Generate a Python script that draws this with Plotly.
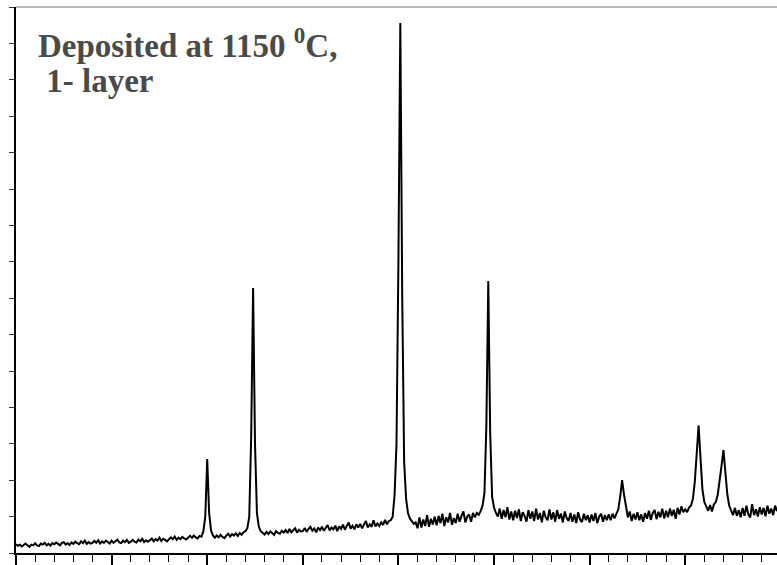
import numpy as np
import plotly.graph_objects as go

# 2-theta scan grid (deg), step 0.2
two_theta = np.round(np.arange(10.0, 89.61, 0.2), 1)

# Intensity (arbitrary units), one row per 2 degrees
intensity = [
    0.24, 0.20, 0.23, 0.18, 0.22, 0.26, 0.21, 0.17, 0.23, 0.21,   # 10-11.8
    0.27, 0.21, 0.19, 0.26, 0.23, 0.28, 0.21, 0.25, 0.20, 0.27,   # 12
    0.24, 0.29, 0.25, 0.21, 0.28, 0.30, 0.23, 0.27, 0.22, 0.29,   # 14
    0.25, 0.31, 0.27, 0.24, 0.32, 0.27, 0.34, 0.25, 0.30, 0.26,   # 16
    0.28, 0.33, 0.28, 0.35, 0.26, 0.32, 0.28, 0.34, 0.30, 0.26,   # 18
    0.34, 0.28, 0.32, 0.37, 0.29, 0.27, 0.34, 0.30, 0.36, 0.28,   # 20
    0.31, 0.36, 0.31, 0.29, 0.37, 0.32, 0.39, 0.30, 0.35, 0.31,   # 22
    0.35, 0.40, 0.32, 0.38, 0.34, 0.42, 0.33, 0.39, 0.36, 0.32,   # 24
    0.38, 0.43, 0.38, 0.45, 0.36, 0.42, 0.38, 0.44, 0.40, 0.37,   # 26
    0.42, 0.47, 0.42, 0.48, 0.43, 0.40, 0.47, 0.45, 0.60, 1.00,   # 28
    2.58, 1.10, 0.62, 0.48, 0.42, 0.48, 0.43, 0.50, 0.44, 0.41,   # 30
    0.48, 0.53, 0.45, 0.52, 0.48, 0.54, 0.47, 0.55, 0.50, 0.57,   # 32
    0.60, 0.68, 1.00, 3.20, 7.28, 3.00, 1.10, 0.72, 0.60, 0.55,   # 34
    0.51, 0.58, 0.52, 0.59, 0.54, 0.50, 0.60, 0.55, 0.53, 0.61,   # 36
    0.56, 0.63, 0.55, 0.66, 0.57, 0.62, 0.68, 0.56, 0.64, 0.59,   # 38
    0.60, 0.69, 0.58, 0.66, 0.72, 0.61, 0.67, 0.57, 0.70, 0.63,   # 40
    0.72, 0.61, 0.69, 0.77, 0.62, 0.70, 0.65, 0.75, 0.60, 0.73,   # 42
    0.66, 0.78, 0.64, 0.73, 0.84, 0.67, 0.75, 0.65, 0.79, 0.70,   # 44
    0.80, 0.68, 0.77, 0.88, 0.70, 0.79, 0.72, 0.90, 0.73, 0.81,   # 46
    0.74, 0.84, 0.77, 0.91, 0.79, 0.88, 0.90, 1.00, 1.60, 3.00,   # 48
    8.00, 14.56, 7.00, 2.50, 1.50, 1.10, 0.95, 0.86, 0.80, 0.84,  # 50
    0.68, 0.98, 0.70, 0.92, 0.74, 1.04, 0.72, 0.94, 0.78, 1.00,   # 52
    0.76, 1.02, 0.82, 1.08, 0.74, 0.98, 0.84, 1.10, 0.78, 0.96,   # 54
    0.82, 1.08, 0.86, 1.02, 1.14, 0.84, 1.00, 1.06, 0.86, 1.10,   # 56
    0.98, 1.10, 1.05, 1.15, 1.30, 1.65, 3.50, 7.47, 3.30, 1.55,   # 58
    1.25, 1.10, 1.00, 1.22, 0.94, 1.18, 0.98, 1.26, 0.92, 1.14,   # 60
    0.90, 1.16, 0.96, 1.20, 0.88, 1.12, 1.02, 0.86, 1.18, 0.94,   # 62
    1.14, 0.88, 1.22, 0.92, 1.10, 0.84, 1.16, 0.98, 0.90, 1.20,   # 64
    0.92, 1.12, 0.86, 1.18, 0.94, 1.08, 0.84, 1.14, 0.96, 0.88,   # 66
    1.10, 0.86, 1.06, 0.82, 1.12, 0.92, 0.85, 1.08, 0.90, 1.04,   # 68
    0.84, 1.06, 0.88, 1.10, 0.82, 1.00, 1.08, 0.86, 1.04, 0.90,   # 70
    1.06, 0.90, 1.08, 0.95, 1.10, 1.20, 1.55, 2.00, 1.60, 1.22,   # 72
    0.98, 1.14, 0.88, 1.08, 0.92, 1.12, 0.90, 1.06, 0.86, 1.10,   # 74
    0.94, 1.16, 0.91, 1.10, 1.18, 0.93, 1.13, 0.98, 1.22, 0.95,   # 76
    1.16, 0.98, 1.22, 1.02, 1.19, 0.94, 1.24, 1.06, 1.28, 1.12,   # 78
    1.20, 1.12, 1.25, 1.30, 1.48, 1.95, 2.70, 3.50, 2.60, 1.75,   # 80
    1.40, 1.26, 1.16, 1.32, 1.14, 1.34, 1.40, 1.60, 1.95, 2.40,   # 82
    2.83, 2.30, 1.62, 1.30, 1.16, 1.04, 1.24, 1.02, 1.18, 0.98,   # 84
    1.24, 1.02, 1.30, 1.06, 0.98, 1.34, 1.04, 1.20, 1.00, 1.26,   # 86
    1.06, 1.24, 1.01, 1.30, 1.08, 1.22, 1.04, 1.30, 1.15,         # 88-89.6
]

label_line1 = "Deposited at 1150 <sup>0</sup>C,"
label_line2 = " 1- layer"

fig = go.Figure()
fig.add_trace(go.Scatter(
    x=two_theta, y=intensity, mode="lines",
    line=dict(color="black", width=2), showlegend=False,
))

label_font = dict(family="Liberation Serif", size=33, color="#4a4a4a")

fig.update_layout(
    width=777, height=565,
    margin=dict(l=16, r=0, t=7, b=12),
    paper_bgcolor="white", plot_bgcolor="white",
    xaxis=dict(
        range=[10, 89.6], showgrid=False, zeroline=False,
        showline=True, linecolor="black", linewidth=1.5,
        ticks="outside", ticklen=12, tickwidth=1.5, tickcolor="black",
        tick0=10, dtick=10, showticklabels=False,
        minor=dict(dtick=2, ticks="outside", ticklen=7, tickwidth=1,
                   tickcolor="black", showgrid=False),
    ),
    yaxis=dict(
        range=[0, 15], showgrid=False, zeroline=False,
        showline=True, linecolor="black", linewidth=1.5,
        ticks="outside", ticklen=5, tickwidth=1, tickcolor="#333333",
        tick0=0, dtick=1, showticklabels=False,
    ),
    shapes=[dict(type="line", xref="paper", yref="paper", x0=0, x1=1, y0=1, y1=1,
                 line=dict(color="#777777", width=1.2))],
    annotations=[
        dict(xref="paper", yref="paper", x=0.026, y=0.977, xanchor="left", yanchor="top",
             text=f"<b>{label_line1}</b>", showarrow=False, align="left", font=label_font),
        dict(xref="paper", yref="paper", x=0.026, y=0.901, xanchor="left", yanchor="top",
             text=f"<b>{label_line2}</b>", showarrow=False, align="left", font=label_font),
    ],
)

fig.write_html("out.html")
